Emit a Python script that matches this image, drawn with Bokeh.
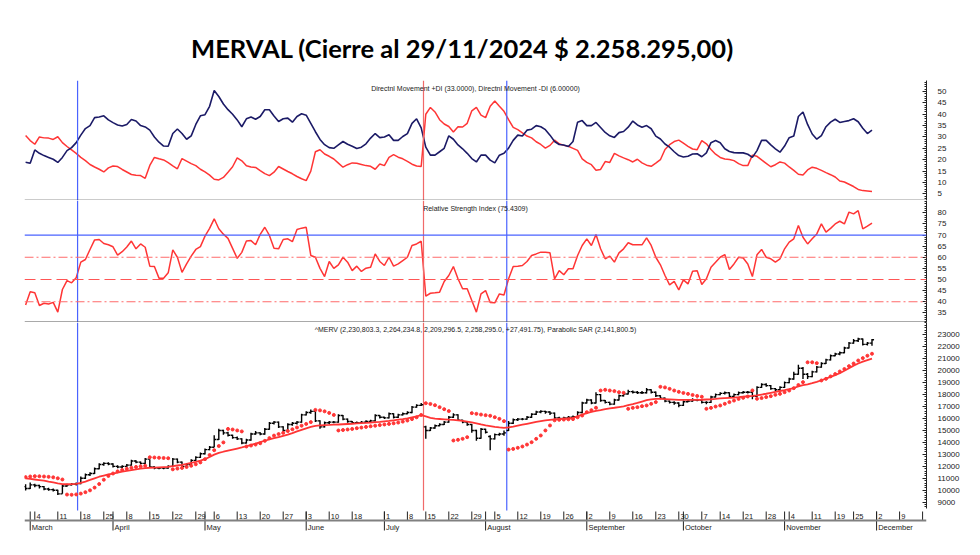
from bokeh.plotting import figure
from bokeh.layouts import column
from bokeh.models import Range1d, LinearAxis, FixedTicker, Span, Label
from bokeh.embed import file_html
from bokeh.resources import INLINE
from bokeh.core.properties import value

TITLE = "MERVAL (Cierre al 29/11/2024 $ 2.258.295,00)"
DMI_TITLE = "Directnl Movement +DI (33.0000), Directnl Movement -DI (6.00000)"
RSI_TITLE = "Relative Strength Index (75.4309)"
PRICE_TITLE = "^MERV (2,230,803.3, 2,264,234.8, 2,209,296.5, 2,258,295.0, +27,491.75), Parabolic SAR (2,141,800.5)"

# ---------------- data (bar index 0 = 29 Feb 2024 ... 184 = 29 Nov 2024), prices x100 ----------------
open_ = [10300,10150,10450,10400,10300,10100,10050,10000,9700,10350,
         10450,10500,10550,11000,11300,11400,11800,12150,12250,12200,
         12000,11950,12000,12100,12450,12350,12250,12600,11950,11850,
         11850,11850,12000,12600,12350,12000,12150,12500,12750,13050,
         13400,13600,14250,15000,14800,14600,14400,14300,13950,14200,
         14700,14800,14700,15100,15600,15700,15300,15000,15500,15600,
         15700,16300,16500,16600,15800,15300,15650,15700,15700,16250,
         15950,15750,15650,15650,15700,15750,15800,16250,16100,16050,
         16400,16100,16300,16400,16500,16950,17100,15300,15000,15200,
         15400,15500,15700,16100,16300,15850,15700,15500,15000,14350,
         15100,14500,14300,14650,14700,15000,15600,15900,15950,15950,
         16100,16350,16550,16600,16550,16450,16050,16000,16050,16100,
         16150,16500,17300,17550,17300,18000,17500,17350,17200,17550,
         17900,18050,18250,18200,18150,18150,18400,18200,17900,17700,
         17450,17350,17300,17100,17400,17450,17550,17550,17350,17350,
         17800,18000,18100,18150,17850,18000,18150,18200,18200,17850,
         18600,18850,18750,18500,18400,18600,19000,19300,19700,20200,
         19700,19500,19900,20300,20600,20900,21250,21400,21500,21900,
         22300,22500,22650,22200,22308]
high = [10500,10650,10550,10450,10350,10200,10150,10050,10450,10550,
        10600,10650,11150,11400,11500,11900,12250,12350,12350,12250,
        12100,12100,12200,12550,12500,12400,12700,12600,12000,11950,
        11950,12100,12700,12650,12400,12250,12600,12850,13150,13500,
        13700,14600,15150,15050,14900,14650,14500,14350,14300,14800,
        14950,14850,15200,15700,15800,15750,15350,15600,15700,15800,
        16400,16600,16750,16600,15850,15750,15800,15800,16350,16300,
        16000,15800,15750,15800,15850,15900,16350,16300,16150,16500,
        16450,16400,16500,16600,17050,17200,17300,15400,15300,15500,
        15600,15800,16200,16450,16350,15900,15750,15550,15050,15200,
        15150,14600,14750,14800,15000,15800,16000,16050,16050,16200,
        16450,16650,16700,16650,16600,16500,16150,16150,16200,16250,
        16600,17400,17650,17600,18200,18050,17550,17400,17650,18000,
        18150,18400,18350,18300,18300,18550,18450,18250,17950,17750,
        17500,17450,17350,17500,17550,17700,17650,17600,17450,17900,
        18100,18200,18250,18200,18100,18250,18300,18300,18300,18700,
        18950,18950,18800,18550,18700,19100,19400,19900,20500,20300,
        19800,20000,20400,20700,21000,21350,21500,21600,22000,22400,
        22650,22750,22700,22400,22642]
low = [9980,10100,10250,10150,10000,9950,9900,9600,9700,10300,
       10400,10400,10500,10950,11200,11350,11750,12050,12100,11900,
       11850,11850,11950,12050,12250,12150,12200,11900,11750,11750,
       11750,11800,11950,12250,11900,11950,12100,12450,12700,13000,
       13350,13600,14200,14650,14500,14300,14200,13850,13900,14150,
       14650,14600,14650,15050,15500,15200,14900,14950,15400,15500,
       15650,16250,16400,15700,15150,15250,15550,15600,15650,15850,
       15650,15550,15550,15600,15650,15700,15750,16000,15950,16000,
       16000,16050,16250,16350,16450,16900,17050,14300,14950,15150,
       15350,15450,15650,16050,15800,15600,15400,14800,14150,14300,
       14750,13350,14250,14550,14550,14950,15550,15800,15850,15900,
       16050,16300,16450,16400,16300,15950,15900,15950,16000,16000,
       16100,16450,17250,17200,17250,17400,17250,17100,17150,17500,
       17850,18000,18100,18050,18050,18100,18100,17800,17600,17350,
       17250,17150,16950,17050,17350,17400,17450,17250,17200,17300,
       17750,17950,18000,17750,17800,17950,18100,18100,17600,17800,
       18550,18650,18400,18300,18350,18550,18950,19250,19650,19300,
       19300,19450,19850,20250,20550,20850,21200,21300,21450,21850,
       22250,22400,22100,22100,22093]
close = [10150,10450,10400,10300,10100,10050,10000,9700,10350,10450,
         10500,10550,11000,11300,11400,11800,12150,12250,12200,12000,
         11950,12000,12100,12450,12350,12250,12600,11950,11850,11850,
         11850,12000,12600,12350,12000,12150,12500,12750,13050,13400,
         13600,14250,15000,14800,14600,14400,14300,13950,14200,14700,
         14800,14700,15100,15600,15700,15300,15000,15500,15600,15700,
         16300,16500,16600,15800,15300,15650,15700,15700,16250,15950,
         15750,15650,15650,15700,15750,15800,16250,16100,16050,16400,
         16100,16300,16400,16500,16950,17100,17150,15000,15200,15400,
         15500,15700,16100,16300,15850,15700,15500,15000,14350,15100,
         14850,14300,14650,14700,14800,15600,15900,15950,15950,16100,
         16350,16550,16600,16550,16450,16050,16000,16050,16100,16150,
         16500,17300,17550,17300,18000,17500,17350,17200,17550,17900,
         18050,18250,18200,18150,18150,18400,18200,17900,17700,17450,
         17350,17300,17100,17400,17450,17550,17550,17350,17350,17800,
         18000,18100,18150,17850,18000,18150,18200,18200,17850,18600,
         18850,18750,18500,18400,18600,19000,19300,19700,20200,19700,
         19500,19900,20300,20600,20900,21250,21400,21500,21900,22300,
         22500,22650,22200,22300,22583]
moving_avg = [11000,10950,10900,10850,10800,10720,10650,10580,10520,10500,
              10510,10530,10620,10730,10860,11000,11130,11230,11320,11400,
              11480,11550,11620,11690,11750,11800,11850,11880,11900,11920,
              11940,11960,12010,12070,12130,12200,12290,12380,12480,12600,
              12780,12980,13120,13220,13310,13400,13490,13580,13680,13790,
              13900,14020,14140,14250,14350,14450,14550,14650,14780,14920,
              15050,15180,15300,15380,15420,15450,15460,15480,15500,15520,
              15540,15560,15590,15610,15630,15660,15690,15720,15760,15800,
              15850,15900,15950,16020,16100,16180,16280,16170,16060,15990,
              15960,15930,15900,15880,15850,15800,15740,15680,15600,15500,
              15420,15370,15300,15250,15220,15260,15320,15400,15480,15560,
              15640,15720,15790,15850,15890,15920,15950,15980,16000,16060,
              16180,16330,16450,16550,16640,16700,16780,16850,16900,16960,
              17020,17110,17200,17300,17420,17530,17600,17640,17640,17620,
              17600,17580,17560,17550,17550,17550,17560,17570,17590,17610,
              17640,17680,17710,17730,17750,17780,17820,17860,17890,17930,
              18000,18070,18150,18230,18300,18370,18450,18550,18680,18790,
              18860,18960,19070,19200,19340,19480,19630,19790,19990,20200,
              20420,20600,20750,20880,21000]
parabolic_sar = [11100,11150,11180,11170,11150,11120,11080,11000,10900,
                 9640,9620,9650,9720,9840,9990,10220,10520,10880,11200,11400,11580,11700,11800,11880,11950,12000,12050,
                 12760,12740,12720,12700,12680,
                 11750,11810,11870,11950,12050,12170,12330,12600,12950,13350,13700,14000,
                 15130,15080,15000,14920,
                 13660,13740,13820,13930,14130,14360,14570,14700,14800,14950,15100,15250,15400,15550,15700,
                 16720,16680,16600,16470,16300,
                 15000,15040,15080,15130,15190,15240,15300,15350,15400,15450,15500,15550,15600,15660,15740,15830,15950,16100,16300,
                 17280,17220,17110,16950,16780,16620,
                 14160,14220,14300,14440,
                 16450,16390,16330,16280,16230,16110,15970,15780,
                 13400,13460,13550,13660,13820,14020,14300,14580,15000,15420,15850,15890,15910,15930,15950,16100,16250,16530,16700,16900,
                 18340,18400,18340,18290,18200,18150,
                 16810,16890,16950,17030,17090,17230,17370,
                 18650,18600,18480,18340,18230,18140,18060,17970,17890,17820,
                 16810,16890,17000,17090,17230,17370,17500,17640,17730,17840,
                 18350,
                 17650,17710,17790,17870,17980,18060,18200,18340,18540,18800,19040,
                 20700,20700,20630,
                 19180,19320,19520,19720,19930,20140,20380,20600,20850,21050,21250,21418]
di_plus = [18.9,18.4,24.3,22.8,21.8,21.0,20.2,18.8,21.0,24.0,
           25.3,27.5,30.8,33.7,35.0,38.5,38.8,39.3,37.5,36.3,
           35.3,34.8,35.5,37.7,37.0,35.0,34.4,33.0,30.0,27.7,
           26.0,25.9,31.5,33.5,31.5,29.0,30.5,35.5,39.3,39.8,
           43.5,50.4,47.8,44.5,42.0,40.0,37.5,34.5,38.0,38.8,
           37.8,39.0,42.0,42.0,39.2,36.8,38.0,38.3,36.5,39.0,
           40.2,39.6,36.0,32.3,28.9,26.6,25.3,25.0,26.5,28.0,
           26.8,25.9,24.9,25.5,27.0,29.5,31.5,29.7,30.0,31.0,
           28.5,28.5,30.2,31.5,36.0,38.0,34.0,25.5,22.0,22.0,
           23.5,25.0,30.5,29.0,26.5,24.8,22.8,20.5,19.0,22.0,
           22.0,19.8,18.6,22.0,22.8,25.1,28.5,30.8,30.4,33.0,
           33.4,35.0,34.5,33.2,30.8,28.0,26.7,26.5,25.8,28.0,
           36.5,37.2,35.0,35.0,36.4,34.2,32.0,30.5,29.8,31.9,
           32.4,34.3,37.0,35.3,34.3,35.0,33.6,30.4,29.1,26.9,
           25.5,23.5,21.8,21.2,21.5,22.5,22.6,21.3,23.0,27.5,
           28.4,27.5,24.8,23.6,23.1,23.0,23.0,22.4,21.0,24.0,
           28.5,28.5,26.5,24.8,23.3,26.0,29.7,30.4,39.0,41.0,
           35.5,31.3,29.0,30.6,34.5,36.5,37.8,36.4,36.8,37.2,
           38.0,36.7,33.8,31.5,33.0]
di_minus = [30.6,28.4,26.8,30.0,29.6,29.5,28.9,30.1,27.5,25.8,
            24.3,22.8,21.0,19.6,17.9,16.8,15.8,14.6,16.4,17.2,
            17.0,15.7,14.6,13.5,13.2,13.0,11.8,17.5,21.0,20.4,
            19.9,18.7,17.3,16.0,20.5,19.4,18.3,17.4,15.8,14.6,
            13.2,11.4,11.1,12.2,14.5,16.9,20.8,19.5,17.3,16.8,
            16.6,15.2,13.9,13.0,14.5,17.0,15.9,14.8,13.8,12.6,
            11.6,10.8,15.0,23.5,24.4,22.5,21.5,20.3,18.5,16.7,
            17.8,18.6,18.4,17.9,17.4,17.1,15.8,18.1,17.4,21.0,
            22.2,21.1,20.4,19.3,18.0,17.2,17.0,40.0,43.0,41.0,
            37.6,35.7,34.6,32.2,34.5,34.4,36.0,41.5,43.0,39.6,
            38.5,43.5,45.8,43.5,41.3,37.6,34.2,33.2,31.8,30.4,
            29.6,27.9,26.7,25.1,26.3,28.6,27.0,26.3,25.9,25.0,
            24.1,20.4,18.8,17.8,15.4,15.7,19.2,18.8,22.8,21.7,
            20.8,20.0,19.0,20.2,18.6,17.6,17.1,18.5,20.0,24.5,
            26.6,28.0,28.6,27.3,25.9,24.7,24.4,28.4,27.0,24.5,
            22.4,21.0,20.3,20.1,19.6,18.3,17.4,17.4,22.0,21.5,
            19.9,18.4,16.9,17.8,19.0,18.5,16.8,15.3,13.6,13.3,
            15.5,16.7,16.2,15.3,14.3,13.4,12.4,10.6,10.2,9.2,
            8.2,6.9,6.4,6.2,6.0]
rsi = [38.5,44.5,44.0,38.3,39.3,39.0,39.7,35.3,45.5,49.5,
       48.5,50.8,57.8,59.0,63.5,67.8,68.0,66.2,65.6,64.7,
       61.0,62.5,64.6,67.3,63.8,66.0,64.5,56.0,55.8,50.6,
       50.6,53.0,63.3,60.0,53.2,57.0,60.5,63.5,64.8,69.5,
       73.0,77.3,72.8,70.4,68.5,64.0,59.5,62.2,67.3,67.5,
       65.6,70.3,73.5,69.8,64.0,63.8,68.0,68.3,67.0,72.5,
       73.1,73.5,60.8,60.0,55.0,51.3,58.1,55.0,56.6,60.0,
       57.8,54.0,56.0,53.6,55.1,55.5,61.5,58.1,56.3,60.0,
       56.0,57.0,58.5,60.0,65.3,66.0,67.2,42.5,43.8,44.0,
       44.3,49.1,51.8,55.8,50.3,45.8,45.8,40.5,35.3,43.5,
       45.0,39.6,39.5,43.5,43.0,50.3,55.8,56.0,56.3,58.1,
       60.8,61.5,62.3,62.3,62.0,50.3,54.0,52.1,54.8,54.8,
       60.8,65.3,68.3,65.3,70.2,63.8,59.3,60.5,57.8,62.0,
       63.8,66.5,65.6,65.6,65.6,68.7,65.3,60.0,56.6,51.8,
       47.6,49.1,45.3,49.8,48.0,53.7,53.9,47.7,50.3,55.5,
       57.8,60.0,61.2,54.5,57.0,60.0,59.7,57.0,51.3,61.1,
       63.5,60.0,59.3,57.8,59.3,63.8,66.8,68.3,74.3,69.0,
       66.0,68.3,70.5,75.0,71.3,73.0,75.0,76.2,75.0,80.3,
       79.5,81.0,72.8,74.0,75.4]

rsi_levels_dashdot = [60, 40]
rsi_level_dash = 50
rsi_level_upper = 70

day_tick_pos = [2, 7, 12, 17, 22, 27, 32, 37, 41, 46, 51, 56, 61, 66, 71, 78, 83, 87, 92, 97,
                102, 107, 112, 117, 122, 127, 132, 137, 142, 147, 151, 156, 161, 166, 171, 176, 180,
                185, 190, 195]
day_tick_lbl = ["4", "11", "18", "25", "8", "15", "22", "29", "6", "13", "20", "27", "3", "10", "18",
                "1", "8", "15", "22", "29", "5", "12", "19", "26", "2", "9", "16", "23", "30", "7",
                "14", "21", "28", "4", "11", "19", "25", "2", "9", ""]
month_pos = [1, 19, 39, 61, 78, 100, 122, 143, 165, 185]
month_lbl = ["March", "April", "May", "June", "July", "August", "September", "October",
             "November", "December"]
buy_signal_x = [11.3, 104.6]
sell_signal_x = [86.5]

dmi_ticks = [5, 10, 15, 20, 25, 30, 35, 40, 45, 50]
rsi_ticks = [35, 40, 45, 50, 55, 60, 65, 70, 75, 80]
price_ticks = list(range(9000, 23001, 1000))

# ---------------- layout (page has no body margin, so the 8px offset is built in) ----------------
FIG_W = 972
ML, MR = 24, 46
X_RANGE = Range1d(-0.24, 195.85)
FONT = "Liberation Sans"
RED = "#ff3535"
NAVY = "#1b1a66"
BLUE = "#4a63ff"
SIG_RED = "#f06a6a"

n = min(len(open_), len(high), len(low), len(close), len(moving_avg), len(parabolic_sar),
        len(di_plus), len(di_minus), len(rsi))
xs = list(range(n))


def page_val(page_y, frame_top, frame_h, y0, y1):
    return y1 - (page_y - frame_top) / frame_h * (y1 - y0)


def panel(height, y0, y1):
    p = figure(width=FIG_W, height=height, x_range=X_RANGE, y_range=Range1d(y0, y1),
               x_axis_type=None, y_axis_type=None, toolbar_location=None,
               output_backend="svg", min_border_left=ML, min_border_right=MR,
               min_border_top=0, min_border_bottom=0)
    p.outline_line_color = None
    p.background_fill_color = "white"
    p.border_fill_color = "white"
    return p


def right_axis(p, ticks, minor, bounds=None):
    ax = LinearAxis(ticker=FixedTicker(ticks=ticks, minor_ticks=minor))
    ax.axis_line_color = "#222222"
    ax.axis_line_width = 1
    ax.major_tick_in = 4
    ax.major_tick_out = 0
    ax.minor_tick_in = 2
    ax.minor_tick_out = 0
    ax.major_tick_line_color = "#222222"
    ax.minor_tick_line_color = "#222222"
    ax.major_label_standoff = 11
    ax.major_label_text_font = FONT
    ax.major_label_text_font_size = "8px"
    ax.major_label_text_color = "#222222"
    if bounds is not None:
        ax.bounds = bounds
    p.add_layout(ax, "right")


def panel_title(p, text, yv):
    p.add_layout(Label(x=(X_RANGE.start + X_RANGE.end) / 2, y=yv, text=text,
                       text_align="center", text_baseline="middle",
                       text_font=FONT, text_font_size="7px", text_color="#222222"))


# title strip: page y 0 -> 80
pt = figure(width=FIG_W, height=80, x_range=Range1d(0, FIG_W), y_range=Range1d(0, 80),
            x_axis_type=None, y_axis_type=None, toolbar_location=None, output_backend="svg",
            min_border_left=0, min_border_right=0, min_border_top=0, min_border_bottom=0)
pt.outline_line_color = None
pt.text(x=[472], y=[33], text=[TITLE], text_font=value("Lato"), text_font_style="bold",
        text_font_size="25.5px", text_align="center", text_baseline="middle",
        text_color="black")

# DMI panel: frame page y 80 -> 200
D_TOP, D_H = 80, 120
d0, d1 = 2.05, 54.84
p1 = panel(D_H, d0, d1)
for xv in buy_signal_x:
    p1.add_layout(Span(location=xv, dimension="height", line_color=BLUE, line_width=1.2))
for xv in sell_signal_x:
    p1.add_layout(Span(location=xv, dimension="height", line_color=SIG_RED, line_width=1.2))
p1.line(xs, di_minus[:n], line_color=RED, line_width=1.5)
p1.line(xs, di_plus[:n], line_color=NAVY, line_width=1.6)
p1.add_layout(Span(location=d0, dimension="width", line_color="#333333", line_width=1.6))
right_axis(p1, dmi_ticks, list(range(3, 55)))
panel_title(p1, DMI_TITLE, page_val(87.5, D_TOP, D_H, d0, d1))

# RSI panel: frame page y 200 -> 322
R_TOP, R_H = 200, 122
r0, r1 = 30.64, 85.54
p2 = panel(R_H, r0, r1)
for xv in buy_signal_x:
    p2.add_layout(Span(location=xv, dimension="height", line_color=BLUE, line_width=1.2))
for xv in sell_signal_x:
    p2.add_layout(Span(location=xv, dimension="height", line_color=SIG_RED, line_width=1.2))
p2.add_layout(Span(location=rsi_level_upper, dimension="width", line_color=BLUE, line_width=1.2))
for lv in rsi_levels_dashdot:
    p2.add_layout(Span(location=lv, dimension="width", line_color="#ff6b6b", line_width=1.1,
                       line_dash="9 3 2 3"))
p2.add_layout(Span(location=rsi_level_dash, dimension="width", line_color="#ff5555", line_width=1.1,
                   line_dash="11 5"))
p2.line(xs, rsi[:n], line_color=RED, line_width=1.5)
p2.add_layout(Span(location=r0, dimension="width", line_color="#555555", line_width=2))
right_axis(p2, rsi_ticks, list(range(31, 86)))
panel_title(p2, RSI_TITLE, page_val(207.7, R_TOP, R_H, r0, r1))

# Price panel: frame page y 322 -> 538 (date scale drawn inside bottom part)
P_TOP, P_H = 322, 216
p0, p1v = 5965.0, 24029.0
p3 = panel(P_H, p0, p1v)


def pv(page_y):
    return page_val(page_y, P_TOP, P_H, p0, p1v)


sig_lo, sig_hi = pv(510), p1v
p3.segment(x0=buy_signal_x, y0=[sig_lo] * len(buy_signal_x), x1=buy_signal_x,
           y1=[sig_hi] * len(buy_signal_x), line_color=BLUE, line_width=1.2)
p3.segment(x0=sell_signal_x, y0=[sig_lo] * len(sell_signal_x), x1=sell_signal_x,
           y1=[sig_hi] * len(sell_signal_x), line_color=SIG_RED, line_width=1.2)

p3.segment(x0=xs, y0=low[:n], x1=xs, y1=high[:n], line_color="black", line_width=1.4)
p3.segment(x0=[v - 0.45 for v in xs], y0=open_[:n], x1=xs, y1=open_[:n],
           line_color="black", line_width=1.4)
p3.segment(x0=xs, y0=close[:n], x1=[v + 0.45 for v in xs], y1=close[:n],
           line_color="black", line_width=1.4)
p3.line(xs, moving_avg[:n], line_color=RED, line_width=1.8)
p3.scatter(xs, parabolic_sar[:n], marker="circle", size=3, fill_color=RED, line_color=RED)

# date scale
p3.add_layout(Span(location=pv(520), dimension="width", line_color="#808080", line_width=2))
p3.segment(x0=day_tick_pos, y0=[pv(511)] * len(day_tick_pos), x1=day_tick_pos,
           y1=[pv(520)] * len(day_tick_pos), line_color="#222222", line_width=1)
p3.text(x=[v + 0.35 for v in day_tick_pos], y=[pv(515.8)] * len(day_tick_pos), text=day_tick_lbl,
        text_font=value(FONT), text_font_size="7.5px", text_align="left",
        text_baseline="middle", text_color="#222222")
p3.segment(x0=month_pos, y0=[pv(511)] * len(month_pos), x1=month_pos,
           y1=[pv(530)] * len(month_pos), line_color="#222222", line_width=1)
p3.text(x=[v + 0.35 for v in month_pos], y=[pv(526.8)] * len(month_pos), text=month_lbl,
        text_font=value(FONT), text_font_size="7.5px", text_align="left",
        text_baseline="middle", text_color="#222222")

right_axis(p3, price_ticks, list(range(8600, 24001, 200)), bounds=(pv(508), p1v))
panel_title(p3, PRICE_TITLE, pv(329))
p3.add_layout(Label(x=X_RANGE.end, y=pv(505.5), x_offset=1, text="x100", text_font=FONT,
                    text_font_size="6px", text_baseline="middle", text_color="#222222",
                    border_line_color="#444444", background_fill_color="white"))

layout = column(pt, p1, p2, p3, spacing=0)
with open("out.html", "w") as f:
    f.write(file_html(layout, INLINE, "MERVAL"))
